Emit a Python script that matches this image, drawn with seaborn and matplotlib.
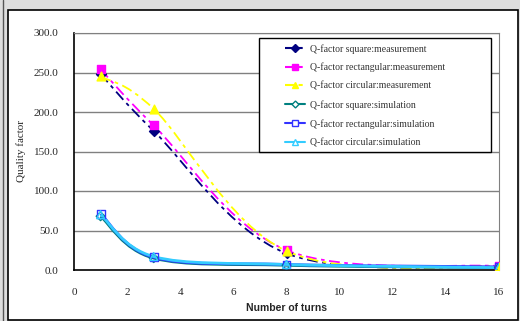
import numpy as np
import pandas as pd
import seaborn as sns
import matplotlib.pyplot as plt
from matplotlib.path import Path
from matplotlib.patches import PathPatch, Rectangle
from matplotlib.lines import Line2D

# Number of turns (x) and quality factor
turns = [1, 3, 8, 16]
q_square_meas = [248, 176, 21, 4]
q_rect_meas = [254, 183, 25, 5]
q_circ_meas = [245, 204, 24, 4]
q_square_sim = [68, 15, 6, 3]
q_rect_sim = [71, 16, 7, 4]
q_circ_sim = [70, 17, 7, 3]

labels = [
    "Q-factor square:measurement",
    "Q-factor rectangular:measurement",
    "Q-factor circular:measurement",
    "Q-factor square:simulation",
    "Q-factor rectangular:simulation",
    "Q-factor circular:simulation",
]
values = [q_square_meas, q_rect_meas, q_circ_meas, q_square_sim, q_rect_sim, q_circ_sim]
colors = ["#000080", "#FF00FF", "#FFFF00", "#008080", "#3333FF", "#33CCFF"]
markers = ["D", "s", "^", "D", "s", "^"]
msizes = [4, 5, 5, 3.5, 4.5, 4.5]
filled = [True, True, True, False, False, False]
dash = (0, (6, 2.5, 2, 2.5))

df = pd.DataFrame(
    [(label, t, q) for label, vals in zip(labels, values) for t, q in zip(turns, vals)],
    columns=["series", "turns", "q"],
)


def smooth_path(x, y):
    """Excel-like smoothed line: cubic Bezier segments with Catmull-Rom control points."""
    pts = np.column_stack([x, y]).astype(float)
    ext = np.vstack([pts[0], pts, pts[-1]])
    verts = [pts[0]]
    codes = [Path.MOVETO]
    for i in range(len(pts) - 1):
        p0, p1, p2, p3 = ext[i], ext[i + 1], ext[i + 2], ext[i + 3]
        c1 = p1 + (p2 - p0) / 6
        c2 = p2 - (p3 - p1) / 6
        verts += [c1, c2, p2]
        codes += [Path.CURVE4] * 3
    return Path(verts, codes)


sns.set_style("white")
plt.rcParams["font.family"] = ["Liberation Serif", "DejaVu Serif"]

fig = plt.figure(figsize=(5.2, 3.21), dpi=100)
fig.patch.set_facecolor("#dedede")
# white chart frame and the dark strip on the left edge
fig.add_artist(Rectangle((8 / 520, 1 / 321), 510 / 520, 310 / 321, transform=fig.transFigure,
                         facecolor="white", edgecolor="black", linewidth=1.2, zorder=0))
fig.add_artist(Line2D([2.5 / 520, 2.5 / 520], [0, 1], transform=fig.transFigure, color="#555555", lw=1))

ax = fig.add_axes([74 / 520, 1 - 270 / 321, 425 / 520, 237 / 321])
ax.set_facecolor("white")

for i, label in enumerate(labels):
    sub = df[df["series"] == label]
    ls = "-" if not filled[i] else dash
    lw = 2.0 if not filled[i] else 1.3
    ax.add_patch(PathPatch(smooth_path(sub["turns"], sub["q"]), fill=False,
                           edgecolor=colors[i], linewidth=lw, linestyle=ls, zorder=3 + i))
    sns.scatterplot(data=sub, x="turns", y="q", ax=ax, marker=markers[i], s=msizes[i] ** 2 * 1.6,
                    color=colors[i], facecolor=colors[i] if filled[i] else "none",
                    edgecolor=colors[i], linewidth=1.0, zorder=10 + i, legend=False)

ax.set_xlim(0, 16)
ax.set_ylim(0, 300)
ax.set_xticks(np.arange(0, 17, 2))
ax.set_yticks(np.arange(0, 301, 50))
ax.set_xticklabels([str(v) for v in range(0, 17, 2)])
ax.set_yticklabels([f"{v:.1f}" for v in range(0, 301, 50)])
ax.tick_params(axis="x", direction="in", length=4, width=1, pad=13, labelsize=8, color="black")
ax.tick_params(axis="y", length=0, pad=11, labelsize=8)
for v in range(50, 301, 50):
    ax.axhline(v, color="#808080", lw=1, zorder=1)
ax.spines["left"].set_color("black")
ax.spines["bottom"].set_color("black")
ax.spines["left"].set_linewidth(1.2)
ax.spines["bottom"].set_linewidth(1.2)
ax.spines["top"].set_color("#808080")
ax.spines["right"].set_color("#808080")

ax.set_xlabel("Number of turns", family=["Liberation Sans", "DejaVu Sans"], fontweight="bold",
              fontsize=7.5, labelpad=4)
ax.set_ylabel("Quality factor", fontsize=8, labelpad=6)

# legend box drawn separately so the entries can sit inset from its left edge
ax.add_patch(Rectangle((0.435, 0.498), 0.546, 0.481, transform=ax.transAxes, facecolor="white",
                       edgecolor="black", linewidth=1.0, zorder=20))
handles = []
for i, label in enumerate(labels):
    handles.append(Line2D([], [], color=colors[i], linestyle="-" if not filled[i] else (0, (5, 1.5, 2, 1.5)),
                          lw=1.5, marker=markers[i], markersize=msizes[i],
                          markerfacecolor=colors[i] if filled[i] else "white",
                          markeredgecolor=colors[i], label=label))
leg = ax.legend(handles=handles, loc="upper left", bbox_to_anchor=(0.483, 0.979),
                fontsize=7, frameon=False, handlelength=2.0, handletextpad=0.55,
                labelspacing=0.95, borderpad=0.6, borderaxespad=0)
leg.set_zorder(21)
for t in leg.get_texts():
    t.set_color("#333333")

fig.savefig("out.png", dpi=100, facecolor=fig.get_facecolor())
